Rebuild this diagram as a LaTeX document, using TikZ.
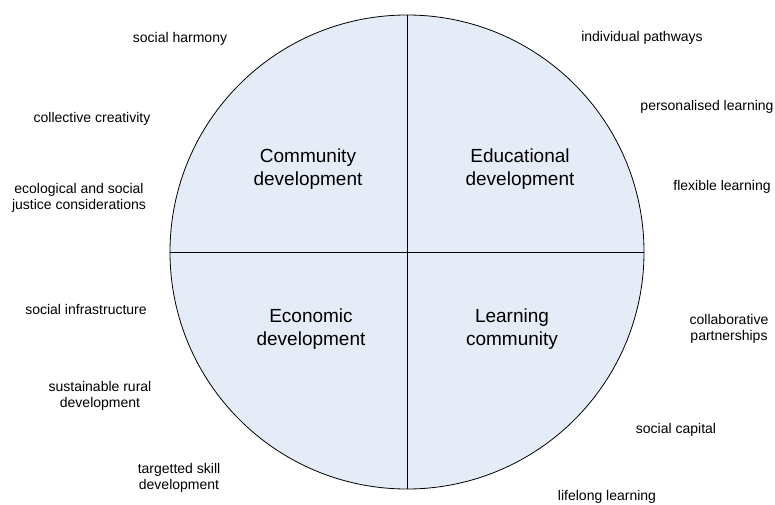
\documentclass[tikz,border=0pt]{standalone}
\usepackage{fontspec}
\setmainfont{Liberation Sans}
\definecolor{quadfill}{RGB}{230,236,247}
\begin{document}
\begin{tikzpicture}[x=1pt, y=-1pt,
    outer/.style={align=center, font=\fontsize{14}{16}\selectfont},
    inner/.style={align=center, font=\fontsize{19}{23}\selectfont}]
    \useasboundingbox (0, 0) rectangle (775, 505);

    \node [circle, draw, line width=0.8pt, fill=quadfill, minimum size=474pt, inner sep=0pt] (wheel) at (407, 252) {};
    \draw [line width=0.8pt] (wheel.north) -- (wheel.south);
    \draw [line width=0.8pt] (wheel.west) -- (wheel.east);

    \node [inner] (community) at (308, 169) {Community\\development};
    \node [inner] (educational) at (520, 169) {Educational\\development};
    \node [inner] (economic) at (311, 329) {Economic\\development};
    \node [inner] (learning) at (512, 329) {Learning\\community};

    % left side
    \node [outer] (harmony) at (180, 39) {social harmony};
    \node [outer] (creativity) at (92, 119) {collective creativity};
    \node [outer] (justice) at (79, 198) {ecological and social\\justice considerations};
    \node [outer] (infra) at (86, 309) {social infrastructure};
    \node [outer] (rural) at (100, 396) {sustainable rural\\development};
    \node [outer] (skill) at (179, 478) {targetted skill\\development};

    % right side
    \node [outer] (pathways) at (642, 38) {individual pathways};
    \node [outer] (personal) at (707, 107) {personalised learning};
    \node [outer] (flexible) at (722, 187) {flexible learning};
    \node [outer] (partners) at (729, 329) {collaborative\\partnerships};
    \node [outer] (capital) at (676, 430) {social capital};
    \node [outer] (lifelong) at (607, 497) {lifelong learning};
\end{tikzpicture}
\end{document}
